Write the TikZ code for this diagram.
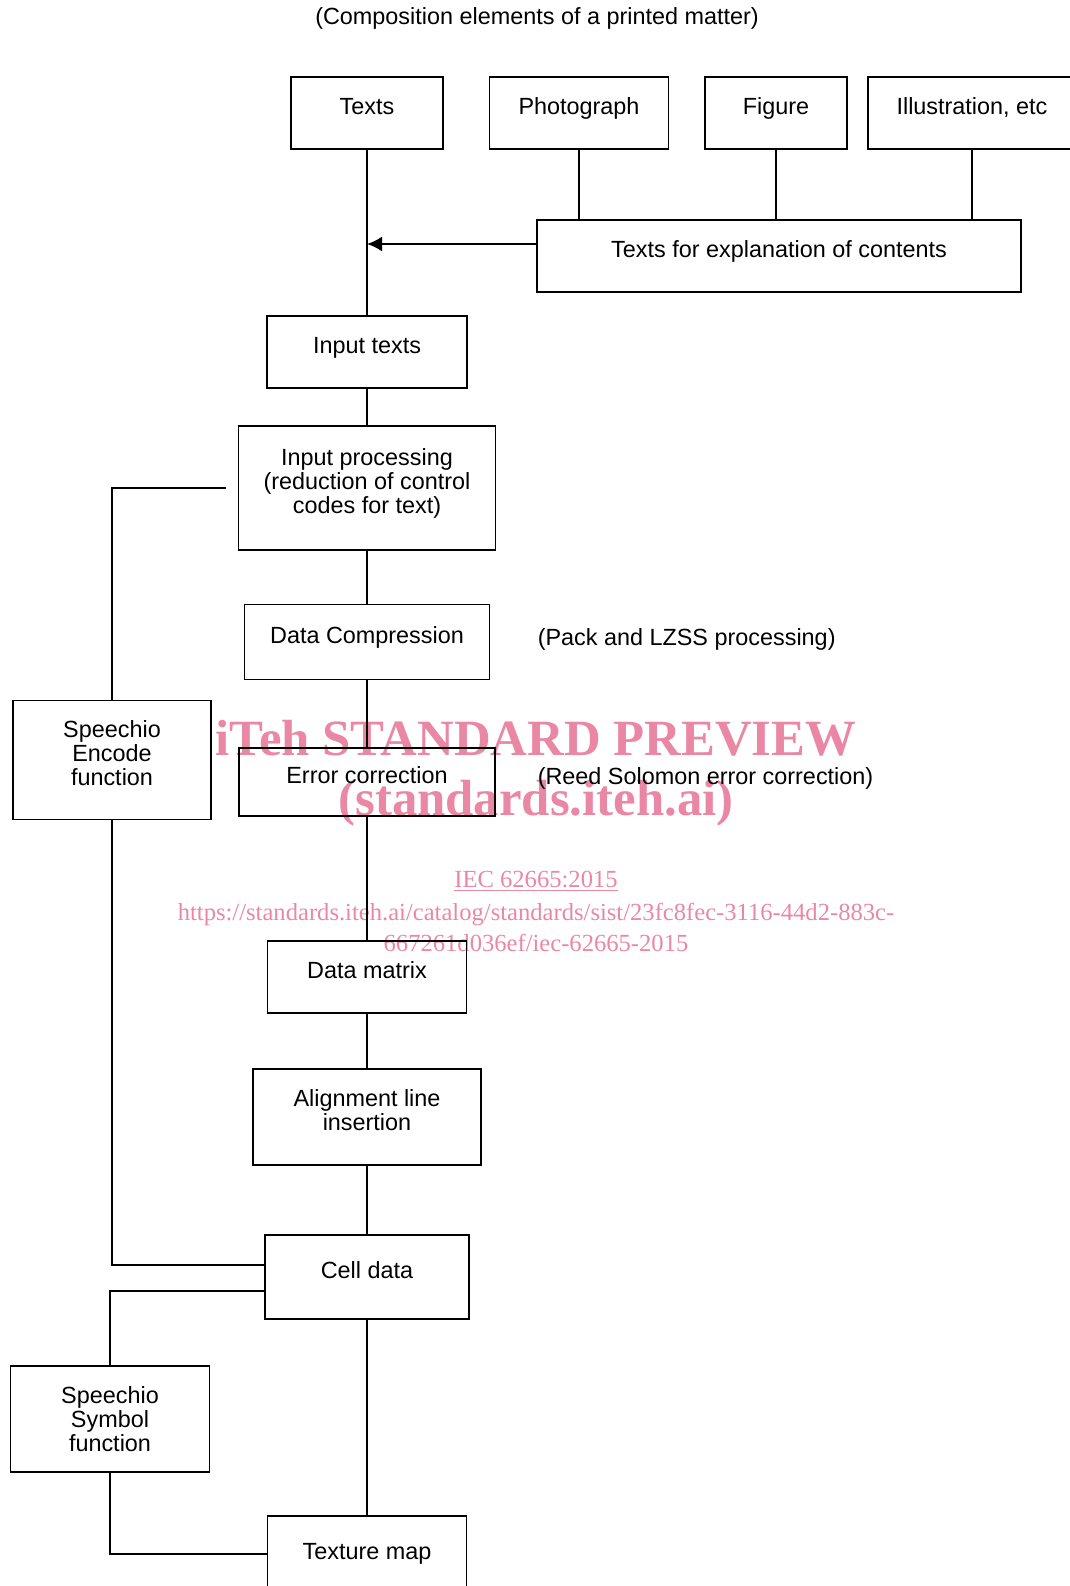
\documentclass[tikz,border=0pt]{standalone}
\usepackage{fontspec}
\setmainfont{Liberation Sans}
\newfontfamily\wmfont{Liberation Serif}
\usepackage{tikz}
\usetikzlibrary{arrows.meta}
\usetikzlibrary{positioning}
\definecolor{mpink}{RGB}{234, 135, 165}
\tikzset{box/.style = {draw, line width = 0.9pt, align = center, inner sep = 2pt}}
\tikzset{tbox/.style = {box, execute at end node = {\rule[-7pt]{0pt}{7pt}}}}
\tikzset{note/.style = {inner sep = 0, anchor = west}}
\tikzset{wm/.style = {text = mpink, inner sep = 0, anchor = base}}
\tikzset{arr/.style = {line width = 1.1pt, -{Latex[length = 7.5pt, width = 7.5pt]}}}

\begin{document}
\begin{tikzpicture}[x = 0.5pt, y = -0.5pt, line width = 0.75pt,
    font = \fontsize{11.7}{12}\selectfont]
  \useasboundingbox (0, 0) rectangle (1070, 1586);

  % watermark, under the chart
  \node [wm, font = \wmfont\bfseries\fontsize{25.4}{26}\selectfont] (wmtop) at (536, 755) {iTeh STANDARD PREVIEW};
  \node [wm, font = \wmfont\bfseries\fontsize{25.4}{26}\selectfont] (wmsite) at (536, 815) {(standards.iteh.ai)};
  \node [wm, font = \wmfont\fontsize{12.3}{13}\selectfont] (wmstd) at (536, 887) {\underline{IEC 62665:2015}};
  \node [wm, font = \wmfont\fontsize{12.3}{13}\selectfont] (wmurl) at (536, 920) {https://standards.iteh.ai/catalog/standards/sist/23fc8fec-3116-44d2-883c-};
  \node [wm, font = \wmfont\fontsize{12.3}{13}\selectfont] (wmid) at (536, 951) {667261d036ef/iec-62665-2015};

  \node (title) at (537, 18) {(Composition elements of a printed matter)};

  % elements of the printed matter
  \node [tbox, minimum width = 76pt, minimum height = 36pt] (texts) at (367, 113) {Texts};
  \node [tbox, minimum width = 89.5pt, minimum height = 36pt] (photo) at (579, 113) {Photograph};
  \node [tbox, minimum width = 71pt, minimum height = 36pt] (figure) at (776, 113) {Figure};
  \node [tbox, minimum width = 104pt, minimum height = 36pt] (illus) at (972, 113) {Illustration, etc};
  \node [tbox, minimum width = 242pt, minimum height = 36pt] (expl) at (779, 256) {Texts for explanation of contents};

  % main column
  \node [tbox, minimum width = 100pt, minimum height = 36pt] (intexts) at (367, 352) {Input texts};
  \node [tbox, minimum width = 128.5pt, minimum height = 62pt] (inproc) at (367, 488) {Input processing\\(reduction of control\\codes for text)};
  \node [tbox, minimum width = 122.5pt, minimum height = 37.5pt] (compress) at (367, 642) {Data Compression};
  \node [tbox, minimum width = 128pt, minimum height = 34pt] (errcorr) at (367, 782) {Error correction};
  \node [tbox, minimum width = 99.5pt, minimum height = 36pt] (matrix) at (367, 977) {Data matrix};
  \node [tbox, minimum width = 114pt, minimum height = 48pt] (align) at (367, 1117) {Alignment line\\insertion};
  \node [tbox, minimum width = 102pt, minimum height = 42pt] (cell) at (367, 1277) {Cell data};
  \node [box, minimum width = 99.5pt, minimum height = 38pt] (texture) at (367, 1554) {Texture map};

  \node [note] (pack) at (537, 639) {(Pack and LZSS processing)};
  \node [note] (reed) at (537, 778) {(Reed Solomon error correction)};

  % side column
  \node [tbox, minimum width = 99pt, minimum height = 59.5pt] (encode) at (112, 760) {Speechio\\Encode\\function};
  \node [box, minimum width = 99.5pt, minimum height = 53pt] (symbol) at (110, 1419) {Speechio\\Symbol\\function};

  \draw (texts) -- (intexts);
  \foreach \e in {photo, figure, illus} {
    \draw (\e) -- (\e |- expl.north);
  }
  \draw [arr] ([yshift = 6pt]expl.west) -- ([yshift = 6pt]expl.west -| texts.south);

  \foreach \a/\b in {intexts/inproc, inproc/compress, compress/errcorr, errcorr/matrix,
      matrix/align, align/cell, cell/texture} {
    \draw (\a) -- (\b);
  }

  \draw (encode) |- ([xshift = -6pt]inproc.west);
  \draw (encode) |- ([yshift = 6pt]cell.west);
  \draw (symbol) |- ([yshift = -7pt]cell.west);
  \draw (symbol) |- (texture);
\end{tikzpicture}
\end{document}
